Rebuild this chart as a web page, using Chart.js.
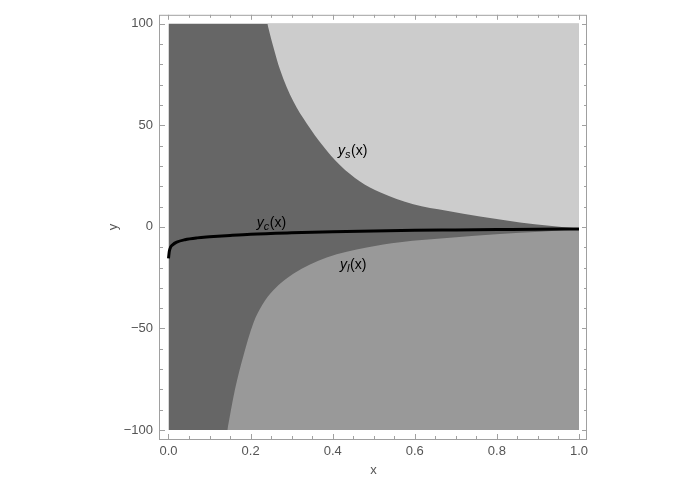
<!DOCTYPE html>
<html>
<head>
<meta charset="utf-8">
<script src="https://cdn.jsdelivr.net/npm/chart.js@4.4.0/dist/chart.umd.min.js"></script>
<style>
  body { margin: 0; background: #fff; }
  #wrap { width: 692px; height: 489px; }
</style>
</head>
<body>
<div id="wrap"><canvas id="regionChart" width="692" height="489"></canvas></div>
<script>
// --- DATA ---
const xTicks = [0, 0.2, 0.4, 0.6, 0.8, 1.0];
const yTicks = [-100, -50, 0, 50, 100];

// y_c(x): the black curve
const ycX = [0, 0.002, 0.005, 0.01, 0.02, 0.04, 0.07, 0.1, 0.15, 0.2, 0.3, 0.4, 0.5, 0.6, 0.7, 0.8, 0.9, 1.0];
const ycY = [-15.5, -12, -10, -8.8, -7.5, -6.3, -5.4, -4.9, -4.2, -3.6, -2.9, -2.4, -2.0, -1.7, -1.5, -1.3, -1.1, -1.0];

// y_s(x): upper boundary (light region above it)
const ysX = [0.2407, 0.2546, 0.2716, 0.304, 0.3367, 0.377, 0.418, 0.4665, 0.5152, 0.5963, 0.6777, 0.7588, 0.8563, 1.0];
const ysY = [100, 89.2, 77.5, 61.8, 50.9, 39.7, 30.3, 22.3, 17.0, 11.1, 7.9, 5.1, 2.2, -0.8];

// y_l(x): lower boundary (mid grey region below it)
const ylX = [0.1432, 0.162, 0.1822, 0.2066, 0.229, 0.2553, 0.304, 0.3854, 0.4828, 0.564, 0.6857, 0.807, 0.905, 1.0];
const ylY = [-100, -79.9, -63.6, -47.4, -38.2, -31.2, -23.1, -15.0, -10.1, -7.5, -5.4, -3.5, -2.4, -1.3];

const boxX = [0, 1];
const boxY = [100, 100];

const zip = (xs, ys) => xs.map((x, i) => ({ x: x, y: ys[i] }));

const tickColor = '#555555';
const frameColor = '#a0a0a0';
const fontFamily = '"Liberation Sans", Arial, sans-serif';

// frame, inward ticks, axis titles and curve labels
const framePlugin = {
    id: 'frame',
    afterDraw(chart) {
        const { ctx, chartArea: a, scales: { x, y } } = chart;
        ctx.save();
        ctx.strokeStyle = frameColor;
        ctx.lineWidth = 1;
        ctx.strokeRect(a.left - 0.5, a.top + 0.5, a.right - a.left, a.bottom - a.top);

        const tick = (x1, y1, x2, y2) => {
            ctx.beginPath();
            ctx.moveTo(x1, y1);
            ctx.lineTo(x2, y2);
            ctx.stroke();
        };
        for (let i = 0; i <= 20; i++) {
            const v = i * 0.05;
            const px = Math.round(x.getPixelForValue(v)) + 0.5;
            const len = (i % 4 === 0) ? 5 : 3;
            tick(px, a.bottom, px, a.bottom - len);
            tick(px, a.top, px, a.top + len);
        }
        for (let i = -10; i <= 10; i++) {
            const v = i * 10;
            const py = Math.round(y.getPixelForValue(v)) + 0.5;
            const len = (i % 5 === 0) ? 5 : 3;
            tick(a.left, py, a.left + len, py);
            tick(a.right, py, a.right - len, py);
        }

        // axis titles
        ctx.fillStyle = tickColor;
        ctx.font = '13px ' + fontFamily;
        ctx.textAlign = 'center';
        ctx.textBaseline = 'middle';
        ctx.fillText('x', (a.left + a.right) / 2, 470);
        ctx.save();
        ctx.translate(113, (a.top + a.bottom) / 2);
        ctx.rotate(-Math.PI / 2);
        ctx.fillText('y', 0, 0);
        ctx.restore();

        // curve labels
        const label = (sub, vx, vy) => {
            let px = x.getPixelForValue(vx);
            const py = y.getPixelForValue(vy) + 4;
            ctx.fillStyle = '#000';
            ctx.textAlign = 'left';
            ctx.textBaseline = 'alphabetic';
            ctx.font = 'italic 14px ' + fontFamily;
            ctx.fillText('y', px, py);
            px += ctx.measureText('y').width;
            ctx.font = 'italic 11px ' + fontFamily;
            ctx.fillText(sub, px, py + 3);
            px += ctx.measureText(sub).width + 0.5;
            ctx.font = '14px ' + fontFamily;
            ctx.fillText('(x)', px, py);
        };
        label('s', 0.413, 37.2);
        label('c', 0.215, 1.7);
        label('l', 0.418, -18.7);
        ctx.restore();
    }
};

new Chart(document.getElementById('regionChart').getContext('2d'), {
    type: 'line',
    data: {
        datasets: [
            {
                label: 'yc',
                data: zip(ycX, ycY),
                borderColor: '#000000',
                borderWidth: 3,
                pointRadius: 0,
                fill: false,
                cubicInterpolationMode: 'monotone'
            },
            {
                label: 'ys',
                data: zip(ysX, ysY),
                borderWidth: 0,
                borderColor: 'rgba(0,0,0,0)',
                backgroundColor: '#cccccc',
                pointRadius: 0,
                fill: { value: 100 },
                cubicInterpolationMode: 'monotone'
            },
            {
                label: 'yl',
                data: zip(ylX, ylY),
                borderWidth: 0,
                borderColor: 'rgba(0,0,0,0)',
                backgroundColor: '#999999',
                pointRadius: 0,
                fill: { value: -100 },
                cubicInterpolationMode: 'monotone'
            },
            {
                label: 'box',
                data: zip(boxX, boxY),
                borderWidth: 0,
                borderColor: 'rgba(0,0,0,0)',
                backgroundColor: '#666666',
                pointRadius: 0,
                fill: { value: -100 }
            }
        ]
    },
    options: {
        responsive: false,
        animation: false,
        layout: { padding: { left: 0, right: 105, top: 10, bottom: 0 } },
        plugins: { legend: { display: false }, tooltip: { enabled: false } },
        scales: {
            x: {
                type: 'linear',
                min: -0.0207,
                max: 1.0195,
                afterBuildTicks: s => { s.ticks = xTicks.map(v => ({ value: v })); },
                afterFit: s => { s.height = 50; },
                grid: { display: false, drawTicks: false, tickLength: 0 },
                border: { display: false },
                ticks: {
                    color: tickColor,
                    font: { family: fontFamily, size: 13 },
                    padding: 5,
                    maxRotation: 0,
                    autoSkip: false,
                    callback: v => v.toFixed(1)
                }
            },
            y: {
                type: 'linear',
                min: -104.38,
                max: 104.38,
                afterBuildTicks: s => { s.ticks = yTicks.map(v => ({ value: v })); },
                afterFit: s => { s.width = 160; },
                grid: { display: false, drawTicks: false, tickLength: 0 },
                border: { display: false },
                ticks: {
                    color: tickColor,
                    font: { family: fontFamily, size: 13 },
                    padding: 7,
                    autoSkip: false,
                    callback: v => (v < 0 ? '\u2212' + Math.abs(v) : String(v))
                }
            }
        }
    },
    plugins: [framePlugin]
});
</script>
</body>
</html>
